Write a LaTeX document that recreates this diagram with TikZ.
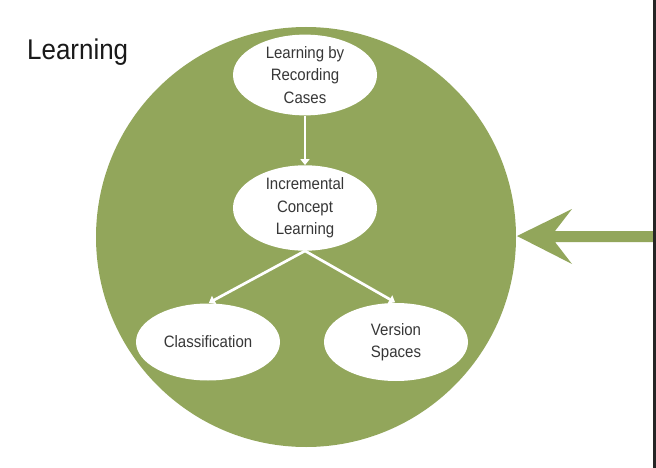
\documentclass[tikz,border=0pt]{standalone}
\usepackage{fontspec}
\setmainfont{Liberation Sans}
\newfontfamily\narrowsans[FakeStretch=0.91]{Liberation Sans}
\usetikzlibrary{shapes.geometric,arrows.meta}
\definecolor{leafgreen}{RGB}{146,166,91}
\definecolor{inktext}{RGB}{55,55,55}
\begin{document}
\begin{tikzpicture}[x=1pt,y=-1pt,
  bubble/.style={ellipse, fill=white, minimum width=144pt, minimum height=77pt, inner sep=0pt, align=center, font=\narrowsans\fontsize{16.5}{22.5}\selectfont, text=inktext},
  link/.style={white, line width=2.7pt, -{Triangle[width=9pt,length=6pt]}}]
\useasboundingbox (0,0) rectangle (656,468);
\fill[white] (0,0) rectangle (656,468);
\fill[leafgreen] (306,237) circle[radius=210];
\node[anchor=base west, inner sep=0pt, font=\narrowsans\fontsize{28.5}{30}\selectfont, text=black!90] (title) at (27,60) {Learning};
\node[bubble, minimum height=74pt] (rec) at (305,75) {Learning by\\Recording\\Cases};
\node[bubble, minimum height=78pt] (inc) at (305,208) {Incremental\\Concept\\Learning};
\node[bubble] (cls) at (208,342) {Classification};
\node[bubble, minimum height=78pt] (ver) at (396,342) {Version\\Spaces};
\draw[link] (rec.south) -- (inc.north);
\draw[link, shorten >=1pt] (inc.south) -- (cls.north);
\draw[link, shorten >=1pt] (inc.south) -- (ver.north);
\coordinate (tip) at (517,236);
\fill[leafgreen] (tip) -- (572,209) -- (555,231) -- (654,231) -- (654,242) -- (555,242) -- (572,264) -- cycle;
\draw[line width=2.5pt, black!85] (654.5,0) -- (654.5,468);
\end{tikzpicture}
\end{document}
